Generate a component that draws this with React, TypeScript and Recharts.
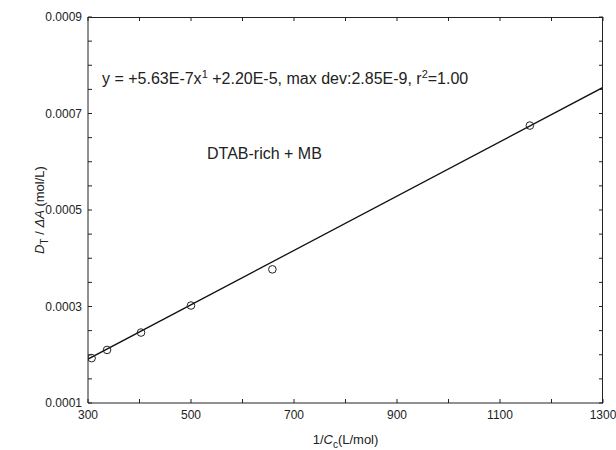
import React from 'react';
import { ScatterChart, Scatter, XAxis, YAxis, Label } from 'recharts';

// measured points (1/Cc, DT/dA)
const xValues = [307, 337, 403, 500, 658, 1158];
const yValues = [0.000193, 0.00021, 0.000246, 0.000302, 0.000377, 0.000675];

// fitted line end points
const fitX = [300, 1300];
const fitY = [0.000191, 0.000754];

const xTicks = [300, 400, 500, 600, 700, 800, 900, 1000, 1100, 1200, 1300];
const xLabelTicks = [300, 500, 700, 900, 1100, 1300];
const yTicks = [
  0.0001, 0.00015, 0.0002, 0.00025, 0.0003, 0.00035, 0.0004, 0.00045, 0.0005,
  0.00055, 0.0006, 0.00065, 0.0007, 0.00075, 0.0008, 0.00085, 0.0009,
];
const yLabelTicks = ['0.0001', '0.0003', '0.0005', '0.0007', '0.0009'];

const X_DOMAIN = [300, 1300];
const Y_DOMAIN = [0.0001, 0.0009];

const points = xValues.map((x, i) => ({ x, y: yValues[i] }));
const fitLine = fitX.map((x, i) => ({ x, y: fitY[i] }));

const FONT = '"Liberation Sans", Arial, sans-serif';
const INK = '#222';
const TICK = 4;
// plot box (px)
const LEFT = 88;
const TOP = 17;
const PLOT_W = 515;
const PLOT_H = 386;

const yLabelOf = (v: number) => yLabelTicks.find((s) => Math.abs(parseFloat(s) - v) < 1e-9);

const renderBottomTick = (props: any) => {
  const x = Number(props.x);
  const y = Number(props.y);
  const v = props.payload.value;
  const top = y - PLOT_H;
  const d = `M${x},${y}V${y - TICK}M${x},${top}V${top + TICK}`;
  return (
    <g key={`bt${v}`}>
      <path d={d} stroke={INK} strokeWidth={1} fill="none" />
      {xLabelTicks.includes(v) && (
        <text x={x} y={y + 16} textAnchor="middle" fontSize={12} fontFamily={FONT} fill={INK}>
          {v}
        </text>
      )}
    </g>
  );
};

const renderLeftTick = (props: any) => {
  const x = Number(props.x);
  const y = Number(props.y);
  const v = props.payload.value;
  const lbl = yLabelOf(v);
  const right = x + PLOT_W;
  const d = `M${x},${y}H${x + TICK}M${right},${y}H${right - TICK}`;
  return (
    <g key={`lt${v}`}>
      <path d={d} stroke={INK} strokeWidth={1} fill="none" />
      {lbl && (
        <text x={x - 6} y={y + 4} textAnchor="end" fontSize={12} fontFamily={FONT} fill={INK}>
          {lbl}
        </text>
      )}
    </g>
  );
};

const Circle = (props: any) => (
  <circle cx={props.cx} cy={props.cy} r={3.8} fill="none" stroke={INK} strokeWidth={1} />
);

const NoDot = () => <g />;

export default function App() {
  return (
    <div style={{ position: 'absolute', left: 0, top: 0, width: 616, height: 450, background: '#fff' }}>
      <ScatterChart width={616} height={450} margin={{ top: TOP, right: 616 - LEFT - PLOT_W, bottom: 0, left: 0 }}>
        <XAxis
          type="number"
          dataKey="x"
          domain={X_DOMAIN}
          ticks={xTicks}
          interval={0}
          allowDataOverflow
          height={450 - TOP - PLOT_H}
          stroke={INK}
          tickLine={false}
          tickSize={0}
          tickMargin={0}
          tick={renderBottomTick}
        >
          <Label
            content={() => (
              <text x={LEFT + PLOT_W / 2} y={444} textAnchor="middle" fontSize={13} fontFamily={FONT} fill={INK}>
                1/<tspan fontStyle="italic">C</tspan>
                <tspan fontSize={10} dy={4}>c</tspan>
                <tspan dy={-4}>(L/mol)</tspan>
              </text>
            )}
          />
        </XAxis>
        <YAxis
          type="number"
          dataKey="y"
          domain={Y_DOMAIN}
          ticks={yTicks}
          interval={0}
          allowDataOverflow
          width={LEFT}
          stroke={INK}
          tickLine={false}
          tickSize={0}
          tickMargin={0}
          tick={renderLeftTick}
        >
          <Label
            content={() => (
              <text
                x={44}
                y={210}
                transform="rotate(-90 44 210)"
                textAnchor="middle"
                fontSize={13}
                fontFamily={FONT}
                fill={INK}
              >
                <tspan fontStyle="italic">D</tspan>
                <tspan fontSize={10} dy={4}>T</tspan>
                <tspan dy={-4}> / </tspan>
                <tspan fontStyle="italic">ΔA</tspan>
                <tspan> (mol/L)</tspan>
              </text>
            )}
          />
        </YAxis>
        <Scatter
          data={fitLine}
          line={{ stroke: '#111', strokeWidth: 1.3 }}
          shape={<NoDot />}
          isAnimationActive={false}
        />
        <Scatter data={points} shape={<Circle />} isAnimationActive={false} />
      </ScatterChart>
      {/* top and right sides of the plot frame */}
      <div
        style={{
          position: 'absolute',
          left: LEFT,
          top: TOP - 0.5,
          width: PLOT_W,
          height: PLOT_H,
          borderTop: `1px solid ${INK}`,
          borderRight: `1px solid ${INK}`,
          boxSizing: 'border-box',
          pointerEvents: 'none',
        }}
      />
      <div
        style={{
          position: 'absolute',
          left: 102,
          top: 64,
          fontFamily: FONT,
          fontSize: 16,
          color: INK,
          whiteSpace: 'nowrap',
          lineHeight: '20px',
        }}
      >
        y = +5.63E-7x<sup style={{ fontSize: 11 }}>1</sup> +2.20E-5, max dev:2.85E-9, r<sup style={{ fontSize: 11 }}>2</sup>=1.00
      </div>
      <div
        style={{
          position: 'absolute',
          left: 207,
          top: 144,
          fontFamily: FONT,
          fontSize: 16,
          color: INK,
          whiteSpace: 'nowrap',
          lineHeight: '20px',
        }}
      >
        DTAB-rich + MB
      </div>
    </div>
  );
}
